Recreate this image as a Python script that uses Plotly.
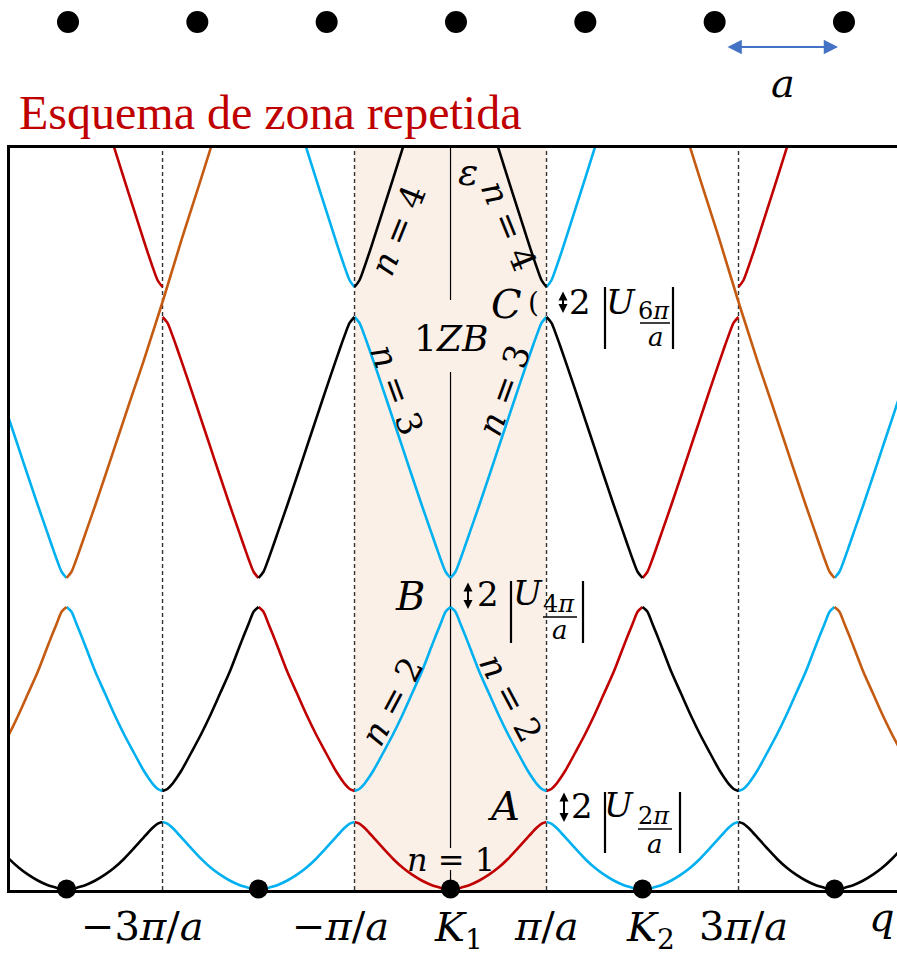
import plotly.graph_objects as go

W, H = 897, 957

# ---------------- data ----------------
# reduced wave-vector measured from the nearest reciprocal lattice point (units of pi/a)
U_GRID = [0, 0.05, 0.1, 0.15, 0.2, 0.3, 0.4, 0.5, 0.6, 0.7, 0.8, 0.85, 0.9, 0.95, 1.0]
# band energies (arbitrary units) on U_GRID
BAND_1 = [0, 0.3, 1.1, 2.4, 4.0, 8.5, 14.3, 21.5, 30.3, 40.5, 51.2, 56.5, 61.5, 65.4, 67]
BAND_2 = [282, 277.5, 266, 254.2, 242, 217.2, 195.7, 174.3, 154.5, 136.5, 119, 111.6, 104.9, 100, 98]
BAND_3 = [311, 317, 329, 342.5, 356.4, 384, 412.5, 441.4, 470.2, 498.8, 527.1, 541, 554.4, 566.3, 572]
BAND_4 = [None, None, None, None, None, 801, 770.6, 740.3, 709.9, 679.8, 649.9, 635.2, 621.1, 608.5, 602]
GAP_C_CENTER = 587          # where the orange parabola crosses at q = +-3pi/a

K_POINTS = [-4, -2, 0, 2, 4]       # reciprocal lattice points (pi/a)
ZONE_EDGES = [-3, -1, 1, 3]        # dashed zone boundaries (pi/a)
CHAIN_SITES = [0, 1, 2, 3, 4, 5, 6]
BOTTOM_LABELS = ["\u22123<i>\u03c0</i>/<i>a</i>", "\u2212<i>\u03c0</i>/<i>a</i>", "<i>K</i><sub>1</sub>",
                 "<i>\u03c0</i>/<i>a</i>", "<i>K</i><sub>2</sub>", "3<i>\u03c0</i>/<i>a</i>", "<i>q</i>"]

RED, CYAN, BLACK, ORANGE = "#c00000", "#00b0f0", "#000000", "#c55a11"
COLOR_OF_G = {0: RED, 2: CYAN, 4: BLACK, 6: ORANGE}
MATH = "DejaVu Serif"

def px(x):
    return x / W

def py(y):
    return 1 - y / H

def parabola_G(n, k):
    """|G| of the free-electron parabola forming band n on interval [k, k+1]."""
    qm = k + 0.5
    gs = sorted(range(-12, 13, 2), key=lambda g: abs(qm - g))
    return abs(gs[n - 1])

fig = go.Figure()

# ---------------- bands ----------------
bands = [BAND_1, BAND_2, BAND_3, BAND_4]
groups = {c: ([], []) for c in COLOR_OF_G.values()}
for n, vals in enumerate(bands, start=1):
    for k in range(-5, 5):
        g = parabola_G(n, k)
        if g not in COLOR_OF_G:
            continue
        pts = [(u, v) for u, v in zip(U_GRID, vals) if v is not None]
        if g == 6:
            pts = [(u, v) for u, v in pts if u <= 0.8] + [(1.0, GAP_C_CENTER)]
        xs = [(k + u) if k % 2 == 0 else (k + 1 - u) for u, _ in pts]
        ys = [v for _, v in pts]
        gx, gy = groups[COLOR_OF_G[g]]
        gx.extend(xs + [None])
        gy.extend(ys + [None])

for color, (gx, gy) in groups.items():
    fig.add_trace(go.Scatter(x=gx, y=gy, mode="lines",
                             line=dict(color=color, width=2.6, shape="spline", smoothing=0.8),
                             hoverinfo="skip"))

# reciprocal lattice points
fig.add_trace(go.Scatter(x=K_POINTS, y=[0] * len(K_POINTS), mode="markers",
                         marker=dict(color="black", size=19), cliponaxis=False, hoverinfo="skip"))

# real-space chain
fig.add_trace(go.Scatter(x=CHAIN_SITES, y=[0] * len(CHAIN_SITES), mode="markers",
                         marker=dict(color="black", size=22), xaxis="x2", yaxis="y2",
                         cliponaxis=False, hoverinfo="skip"))

# ---------------- shapes ----------------
shapes = [dict(type="rect", xref="x", yref="y", x0=-1, x1=1, y0=-1, y1=741,
               fillcolor="#fbf0e8", line=dict(width=0), layer="below")]
for e in ZONE_EDGES:
    shapes.append(dict(type="line", xref="x", yref="y", x0=e, x1=e, y0=-1, y1=741,
                       line=dict(color="#333333", width=1.4, dash="4px,3px"), layer="below"))
for y0, y1 in [(0, 19), (41, 517), (589, 741)]:
    shapes.append(dict(type="line", xref="x", yref="y", x0=0, x1=0, y0=y0, y1=y1,
                       line=dict(color="black", width=1.2), layer="below"))

annotations = []

def text(x, y, s, size, color="black", family=MATH, angle=0, xanchor="center"):
    annotations.append(dict(x=px(x), y=py(y), xref="paper", yref="paper", text=s, showarrow=False,
                            font=dict(family=family, size=size, color=color), textangle=angle,
                            xanchor=xanchor, yanchor="middle"))

# title
text(17, 112, "Esquema de zona repetida", 48, color="#c00000", family="Liberation Serif", xanchor="left")

# lattice spacing arrow and label
annotations.append(dict(x=5.954, y=-25, ax=5.088, ay=-25, xref="x2", yref="y2", axref="x2", ayref="y2",
                        text="", showarrow=True, arrowhead=2, arrowside="end+start", arrowsize=1.3,
                        arrowwidth=2.2, arrowcolor="#4472c4", standoff=0, startstandoff=0))
annotations.append(dict(x=5.53, y=-61, xref="x2", yref="y2", text="<i>a</i>", showarrow=False,
                        font=dict(family=MATH, size=40, color="black")))

# bottom labels
label_pos = [(142, 926), (340, 926), (458, 930), (546, 926), (650, 930), (743, 926), (882, 917)]
for s, (x, y) in zip(BOTTOM_LABELS, label_pos):
    text(x, y, s, 40)

# labels inside the plot
text(468, 172, "<i>\u03b5</i>", 38)
text(451, 338, "1<i>ZB</i>", 36)
text(398, 230, "<i>n</i> = 4", 34, angle=-68)
text(509, 226, "<i>n</i> = 4", 34, angle=68)
text(397, 390, "<i>n</i> = 3", 34, angle=70)
text(504, 390, "<i>n</i> = 3", 34, angle=-70)
text(392, 701, "<i>n</i> = 2", 34, angle=-62)
text(511, 698, "<i>n</i> = 2", 34, angle=62)
text(451, 860, "<i>n</i> = 1", 32)
text(503, 806, "<i>A</i>", 40)
text(410, 596, "<i>B</i>", 40)
text(507, 304, "<i>C</i>", 40)
text(533, 302, "(", 28)

# gap labels  2|U_{G}|
gap_labels = [
    dict(ax=564, a0=791, a1=822, two=(582, 806), bar=(605, 792, 853), U=(619, 805),
         num="2<i>\u03c0</i>", numxy=(654, 816), fb=(638, 672, 829), den=(655, 844), close=680),
    dict(ax=468, a0=581, a1=609, two=(488, 594), bar=(511, 581, 643), U=(528, 593),
         num="4<i>\u03c0</i>", numxy=(559, 604), fb=(543, 577, 617), den=(560, 630), close=583),
    dict(ax=563, a0=290, a1=313, two=(580, 302), bar=(605, 287, 349), U=(621, 302),
         num="6<i>\u03c0</i>", numxy=(654, 311), fb=(640, 670, 323), den=(656, 337), close=673),
]
for g in gap_labels:
    annotations.append(dict(x=px(g["ax"]), y=py(g["a1"]), xref="paper", yref="paper",
                            ax=0, ay=-(g["a1"] - g["a0"]), axref="pixel", ayref="pixel", text="",
                            showarrow=True, arrowhead=2, arrowside="end+start", arrowsize=0.9,
                            arrowwidth=2, arrowcolor="black", standoff=0, startstandoff=0))
    text(g["two"][0], g["two"][1], "2", 34)
    text(g["U"][0], g["U"][1], "<i>U</i>", 34)
    text(g["numxy"][0], g["numxy"][1], g["num"], 24)
    text(g["den"][0], g["den"][1], "<i>a</i>", 26)
    bx, b0, b1 = g["bar"]
    for xx in (bx, g["close"]):
        shapes.append(dict(type="line", xref="paper", yref="paper", x0=px(xx), x1=px(xx),
                           y0=py(b0), y1=py(b1), line=dict(color="black", width=2.2)))
    f0, f1, fy = g["fb"]
    shapes.append(dict(type="line", xref="paper", yref="paper", x0=px(f0), x1=px(f1),
                       y0=py(fy), y1=py(fy), line=dict(color="black", width=1.5)))

fig.update_layout(
    width=W, height=H, margin=dict(l=0, r=0, t=0, b=0),
    paper_bgcolor="white", plot_bgcolor="white", showlegend=False,
    xaxis=dict(domain=[10 / W, 1], range=[-4.589, 4.651], showline=True, mirror=True,
               linecolor="black", linewidth=2.5, showticklabels=False, ticks="",
               showgrid=False, zeroline=False, fixedrange=True),
    yaxis=dict(domain=[(H - 890) / H, (H - 148) / H], range=[-1, 741], showline=True,
               linecolor="black", linewidth=2.5, showticklabels=False, ticks="",
               showgrid=False, zeroline=False, fixedrange=True),
    xaxis2=dict(domain=[0, 1], range=[-68 / 129.33, (W - 68) / 129.33], anchor="y2", visible=False),
    yaxis2=dict(domain=[1 - 100 / H, 1], range=[-78, 22], anchor="x2", visible=False),
    shapes=shapes, annotations=annotations,
)

fig.write_html("out.html", config={"displayModeBar": False},
               post_script="document.body.style.margin='0px';document.body.style.overflow='hidden';")
